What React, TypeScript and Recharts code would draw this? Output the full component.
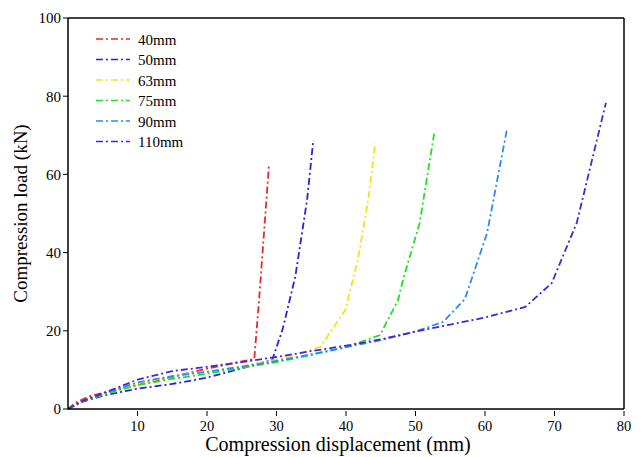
import { LineChart, Line, XAxis, YAxis, ReferenceLine } from 'recharts';

const series40 = [
  { x: 0, y: 0 }, { x: 1, y: 1.5 }, { x: 3, y: 3.2 }, { x: 6, y: 4.6 }, { x: 10, y: 6.2 },
  { x: 15, y: 8.2 }, { x: 20, y: 10.3 }, { x: 24, y: 11.8 }, { x: 26.8, y: 12.8 },
  { x: 27.5, y: 28 }, { x: 28.2, y: 45 }, { x: 28.9, y: 62 },
];
const series50 = [
  { x: 0, y: 0 }, { x: 2, y: 1.8 }, { x: 5, y: 3.4 }, { x: 10, y: 5.2 }, { x: 15, y: 6.4 },
  { x: 20, y: 8 }, { x: 25, y: 10.4 }, { x: 29.4, y: 12.6 }, { x: 30.9, y: 20.5 },
  { x: 32.7, y: 33.8 }, { x: 34.4, y: 53.5 }, { x: 35.3, y: 68.8 },
];
const series63 = [
  { x: 0, y: 0 }, { x: 2, y: 2 }, { x: 5, y: 3.7 }, { x: 10, y: 6.5 }, { x: 15, y: 8.4 },
  { x: 20, y: 9.6 }, { x: 25, y: 11 }, { x: 30, y: 12.6 }, { x: 33, y: 14 }, { x: 36.3, y: 15.9 },
  { x: 39.9, y: 25.3 }, { x: 41.7, y: 38.1 }, { x: 43.2, y: 53.5 }, { x: 44.2, y: 68 },
];
const series75 = [
  { x: 0, y: 0 }, { x: 2, y: 2 }, { x: 5, y: 3.6 }, { x: 10, y: 6.1 }, { x: 15, y: 7.7 },
  { x: 20, y: 9 }, { x: 25, y: 10.5 }, { x: 30, y: 12 }, { x: 35, y: 13.8 }, { x: 40, y: 15.8 },
  { x: 44.9, y: 18.9 }, { x: 47.5, y: 27.9 }, { x: 48.2, y: 33 }, { x: 50.6, y: 47.6 }, { x: 52.7, y: 70.6 },
];
const series90 = [
  { x: 0, y: 0 }, { x: 2, y: 2 }, { x: 5, y: 3.8 }, { x: 10, y: 6.8 }, { x: 15, y: 8.4 },
  { x: 20, y: 9.5 }, { x: 25, y: 10.8 }, { x: 30, y: 12.3 }, { x: 35, y: 14 }, { x: 40, y: 15.8 },
  { x: 45, y: 17.6 }, { x: 50, y: 19.8 }, { x: 54, y: 22.3 }, { x: 57.1, y: 28.1 },
  { x: 60.3, y: 45 }, { x: 63.2, y: 71.9 },
];
const series110 = [
  { x: 0, y: 0 }, { x: 2, y: 2 }, { x: 5, y: 4 }, { x: 10, y: 7.5 }, { x: 15, y: 9.7 },
  { x: 20, y: 10.8 }, { x: 25, y: 12 }, { x: 30, y: 13.3 }, { x: 35, y: 14.8 }, { x: 40, y: 16.2 },
  { x: 45, y: 17.8 }, { x: 50, y: 19.8 }, { x: 55, y: 21.6 }, { x: 60, y: 23.4 },
  { x: 65.8, y: 26.1 }, { x: 69.6, y: 32.2 }, { x: 73.2, y: 47.6 }, { x: 77.4, y: 78.3 },
];

const xTicks = [10, 20, 30, 40, 50, 60, 70, 80];
const yTicks = [0, 20, 40, 60, 80, 100];

const lines = [
  { name: '40mm', data: series40, color: '#e8262c' },
  { name: '50mm', data: series50, color: '#2424d8' },
  { name: '63mm', data: series63, color: '#f2e21c' },
  { name: '75mm', data: series75, color: '#22e022' },
  { name: '90mm', data: series90, color: '#2a8cf0' },
  { name: '110mm', data: series110, color: '#4a24d8' },
];

const font = '"Liberation Serif", "Times New Roman", serif';
const dash = '7 3 2 3';

const XTick = (props: any) => {
  const { x, y, payload } = props;
  return (
    <g>
      <line x1={x} x2={x} y1={y - 6} y2={y - 1} stroke="#000" strokeWidth={1} />
      <text x={x} y={y + 14} textAnchor="middle" fontFamily={font} fontSize={14.5} fill="#000">
        {payload.value}
      </text>
    </g>
  );
};

// legend drawn on top of the plot, outside recharts' layout
const LegendBox = () => (
  <svg width={110} height={130} style={{ position: 'absolute', left: 90, top: 30 }}>
    {lines.map((l, i) => (
      <g key={l.name}>
        <line x1={6} x2={40} y1={9 + i * 20.5} y2={9 + i * 20.5} stroke={l.color}
          strokeWidth={1.7} strokeDasharray={dash} />
        <text x={48} y={14.5 + i * 20.5} fontFamily={font} fontSize={15} fill="#000">{l.name}</text>
      </g>
    ))}
  </svg>
);

export default function App() {
  return (
    <div style={{ position: 'absolute', left: 0, top: 0, width: 644, height: 457, background: '#fff' }}>
      <LineChart width={644} height={457} margin={{ top: 18, right: 20, bottom: 0, left: 0 }}>
        <XAxis type="number" dataKey="x" domain={[0, 80]} ticks={xTicks} tick={<XTick />}
          tickLine={false} axisLine={{ stroke: '#000', strokeWidth: 1.5 }} height={48}
          allowDataOverflow
          label={{ value: 'Compression displacement (mm)', position: 'insideBottom', offset: 6, dx: -8,
            style: { fontFamily: font, fontSize: 20, fill: '#000' } }} />
        <YAxis type="number" dataKey="y" domain={[0, 100]} ticks={yTicks} width={68}
          tick={{ fontFamily: font, fontSize: 15, fill: '#000' }} tickSize={5}
          tickLine={{ stroke: '#000' }} axisLine={{ stroke: '#000', strokeWidth: 1.5 }}
          label={{ value: 'Compression load (kN)', angle: -90, position: 'insideLeft', offset: 20,
            style: { fontFamily: font, fontSize: 19, fill: '#000', textAnchor: 'middle' } }} />
        <ReferenceLine y={100} stroke="#000" strokeWidth={1.5} />
        <ReferenceLine x={80} stroke="#000" strokeWidth={1.5} />
        {lines.map((l) => (
          <Line key={l.name} name={l.name} data={l.data} dataKey="y" type="linear" stroke={l.color}
            strokeWidth={1.8} strokeDasharray={dash} dot={false} isAnimationActive={false} />
        ))}
      </LineChart>
      <LegendBox />
    </div>
  );
}
